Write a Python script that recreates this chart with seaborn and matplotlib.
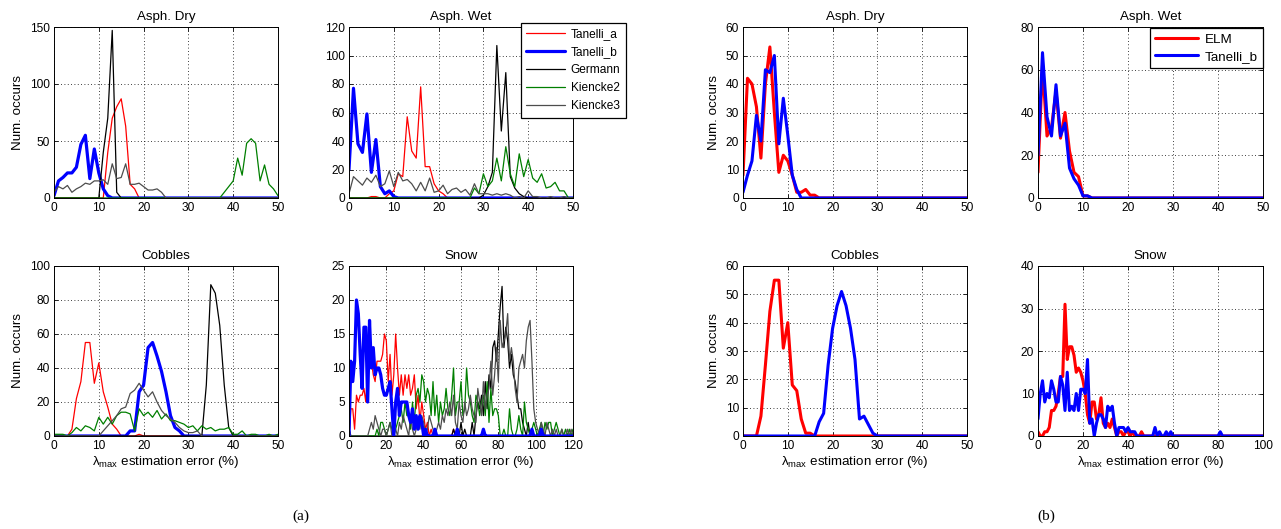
import numpy as np
import pandas as pd
import seaborn as sns
import matplotlib
matplotlib.use("Agg")
import matplotlib.pyplot as plt

# x bins (%)
x50 = list(range(51))
x120 = list(range(121))
x100 = list(range(101))

def pad(vals, n):
    return list(vals) + [0] * (n - len(vals))

# ---------------- panel (a) ----------------
# Asph. Dry
a_dry_tan_a = pad([0]*12 + [40, 70, 80, 87, 63, 12, 8, 0], 51)
a_dry_tan_b = pad([2, 15, 18, 22, 22, 27, 47, 55, 17, 43, 22, 8, 2, 0], 51)
a_dry_germ = pad([0]*11 + [40, 70, 147, 5, 0], 51)
a_dry_kie2 = pad([0]*38 + [5, 10, 15, 35, 20, 48, 52, 48, 15, 29, 12, 8, 2], 51)
a_dry_kie3 = pad([5, 10, 8, 11, 5, 8, 10, 13, 12, 15, 15, 16, 12, 30, 17, 18, 30, 12,
                  12, 13, 10, 7, 7, 8, 5, 0], 51)

# Asph. Wet
a_wet_tan_a = pad([0, 0, 0, 0, 0, 1, 1, 0, 0, 3, 5, 17, 15, 57, 33, 28, 78, 22, 22, 10,
                   5, 3, 0], 51)
a_wet_tan_b = pad([20, 77, 38, 32, 59, 18, 41, 8, 3, 5, 1, 0], 51)
a_wet_germ = pad([0]*30 + [2, 8, 18, 107, 47, 88, 15, 7, 3, 1, 0], 51)
a_wet_kie2 = pad([0]*28 + [7, 3, 17, 8, 12, 28, 12, 36, 17, 8, 31, 15, 27, 14, 11, 17,
                           7, 8, 11, 5, 5, 0, 0], 51)
a_wet_kie3 = [3, 15, 12, 9, 14, 11, 16, 8, 10, 19, 8, 18, 12, 13, 10, 5, 11, 5, 14, 4,
              5, 9, 3, 6, 7, 4, 6, 2, 10, 3, 3, 3, 2, 3, 2, 3, 2, 0, 1, 0,
              5, 1, 1, 0, 0, 1, 0, 0, 1, 0, 0]

# Cobbles
a_cob_tan_a = pad([0, 0, 0, 0, 4, 22, 32, 55, 55, 31, 43, 26, 17, 7, 4, 0, 0, 0, 0, 1, 0], 51)
a_cob_tan_b = pad([0]*17 + [3, 3, 26, 30, 52, 55, 47, 38, 26, 12, 5, 3, 0], 51)
a_cob_germ = pad([0]*34 + [30, 89, 84, 65, 30, 5, 0], 51)
a_cob_kie2 = [1, 1, 1, 0, 2, 5, 3, 6, 5, 3, 11, 7, 11, 7, 12, 14, 14, 13, 3, 16,
              12, 14, 11, 15, 10, 13, 9, 9, 8, 7, 5, 6, 3, 6, 4, 5, 3, 4, 4, 5,
              1, 1, 3, 0, 1, 1, 0, 0, 1, 0, 1]
a_cob_kie3 = pad([0]*11 + [3, 6, 9, 12, 16, 17, 25, 27, 31, 27, 23, 26, 20, 15, 12, 10,
                           8, 5, 3, 2, 2, 3, 0], 51)

# Snow
a_snow_tan_a = pad([0, 4, 4, 1, 6, 5, 6, 6, 7, 5, 10, 12, 11, 9, 8, 11, 11, 11, 12, 15,
                    14, 8, 12, 6, 9, 15, 10, 6, 9, 6, 9, 7, 9, 6, 7, 9, 4, 6, 2, 5,
                    3, 1, 2, 0, 1, 0, 0, 0, 0, 0, 0, 0, 0, 0, 0, 0, 1, 0], 121)
a_snow_tan_b = pad([0, 11, 8, 11, 20, 18, 12, 7, 16, 16, 5, 17, 10, 13, 9, 10, 10, 9, 7, 6,
                    6, 7, 8, 4, 0, 5, 7, 3, 5, 5, 5, 5, 3, 2, 4, 1, 3, 1, 3, 2,
                    0, 1, 0, 0, 0, 0, 1, 0, 0, 0, 0, 0, 0, 0, 0, 0, 0, 0, 1, 0,
                    0, 0, 0, 0, 0, 0, 0, 0, 0, 0, 0, 0, 1, 0, 0, 0, 0, 0, 0, 0,
                    0, 0, 0, 0, 0, 0, 0, 0, 0, 0, 0, 0, 0, 0, 0, 0, 0, 0, 1, 0,
                    0, 0, 0, 1, 0], 121)
a_snow_germ = pad([1] + [0]*55 + [1, 0, 0, 0, 2, 0, 1, 0, 0, 0, 2, 0, 3, 5, 4, 6, 3, 8,
                                4, 9, 7, 13, 14, 11, 15, 19, 22, 13, 16, 14, 10, 12, 9,
                                8, 6, 4, 4, 2, 1, 0, 2, 0, 1, 0], 121)
a_snow_kie2 = [0, 0, 0, 0, 0, 0, 0, 0, 0, 0, 0, 0, 0, 0, 0, 1, 0, 2, 2, 1,
               0, 1, 2, 1, 0, 1, 2, 3, 4, 2, 5, 3, 3, 1, 5, 2, 6, 7, 5, 9,
               8, 5, 7, 6, 3, 8, 3, 6, 2, 5, 3, 4, 7, 4, 3, 6, 10, 3, 5, 5,
               8, 3, 4, 10, 6, 5, 3, 2, 6, 5, 3, 5, 6, 3, 8, 2, 7, 3, 4, 4,
               3, 0, 0, 1, 0, 0, 4, 1, 0, 0, 1, 3, 1, 0, 5, 2, 1, 0, 1, 2,
               1, 0, 1, 2, 0, 2, 1, 2, 2, 0, 1, 2, 1, 0, 1, 0, 1, 0, 1, 0, 1]
a_snow_kie3 = [1, 0, 0, 0, 0, 0, 0, 0, 0, 0, 0, 1, 2, 1, 3, 2, 1, 0, 1, 1,
               0, 1, 2, 0, 1, 1, 0, 2, 1, 3, 2, 1, 0, 3, 1, 0, 1, 2, 1, 3,
               2, 0, 1, 3, 2, 1, 0, 1, 2, 1, 3, 2, 4, 3, 5, 3, 6, 2, 1, 5,
               3, 2, 5, 3, 4, 6, 4, 3, 2, 7, 5, 3, 8, 4, 6, 7, 11, 6, 9, 13,
               8, 17, 13, 14, 15, 18, 11, 13, 11, 7, 5, 10, 11, 12, 10, 14, 16, 17, 11, 4,
               2, 1, 0, 2, 1, 0, 2, 1, 0, 1, 0, 1, 0, 0, 1, 0, 0, 1, 0, 1, 0]

# ---------------- panel (b) ----------------
b_dry_elm = pad([8, 42, 40, 32, 14, 40, 53, 30, 9, 15, 13, 8, 2, 2, 3, 1, 1, 0], 51)
b_dry_tan_b = pad([2, 8, 13, 29, 20, 45, 44, 50, 19, 35, 22, 8, 3, 0], 51)
b_wet_elm = pad([12, 62, 29, 33, 50, 28, 40, 22, 12, 10, 1, 1, 0], 51)
b_wet_tan_b = pad([20, 68, 38, 29, 53, 29, 35, 14, 9, 6, 1, 1, 0], 51)
b_cob_elm = pad([0, 0, 0, 0, 7, 25, 44, 55, 55, 31, 40, 18, 16, 6, 1, 1, 0], 51)
b_cob_tan_b = pad([0]*17 + [5, 8, 25, 38, 46, 51, 46, 38, 27, 6, 7, 4, 1, 0], 51)
b_snow_elm = pad([1, 0, 0, 1, 1, 2, 6, 6, 7, 10, 14, 14, 31, 18, 21, 21, 19, 15, 16, 15,
                  13, 10, 5, 3, 8, 8, 4, 5, 9, 3, 2, 3, 2, 4, 2, 0, 1, 1, 0, 1,
                  1, 0, 1, 0, 0, 0, 1, 0], 101)
b_snow_tan_b = pad([4, 10, 13, 8, 10, 9, 13, 11, 8, 8, 14, 12, 6, 15, 6, 7, 6, 10, 6, 11,
                    11, 10, 18, 3, 4, 0, 3, 5, 5, 4, 2, 7, 6, 7, 3, 0, 2, 2, 2, 1,
                    2, 1, 1, 1, 0, 0, 0, 0, 0, 0, 0, 0, 2, 0, 1, 0, 0, 1, 0, 1,
                    0, 0, 0, 0, 0, 0, 0, 0, 0, 0, 0, 0, 0, 0, 0, 0, 0, 0, 0, 0,
                    0, 1, 0], 101)

sns.set_style("white")
plt.rcParams['font.family'] = ['Liberation Sans', 'DejaVu Sans']
plt.rcParams['mathtext.fontset'] = 'custom'
plt.rcParams['mathtext.rm'] = 'Liberation Sans'
plt.rcParams['mathtext.it'] = 'Liberation Sans'
for k in ['text.color', 'axes.labelcolor', 'xtick.color', 'ytick.color']:
    plt.rcParams[k] = 'black'

fs_tick = 8.6
fs_lab = 9.6
W, H = 1281, 529
fig = plt.figure(figsize=(W / 100, H / 100), dpi=100)

def make_ax(left, top, right, bottom):
    return fig.add_axes([left / W, 1 - bottom / H, (right - left) / W, (bottom - top) / H])

styles_a = {
    'Tanelli_a': dict(color='#ff0000', lw=0.9),
    'Tanelli_b': dict(color='#0000ff', lw=2.3),
    'Germann': dict(color='#000000', lw=0.9),
    'Kiencke2': dict(color='#007f00', lw=0.9),
    'Kiencke3': dict(color='#4d4d4d', lw=0.9),
}
styles_b = {
    'ELM': dict(color='#ff0000', lw=2.2),
    'Tanelli_b': dict(color='#0000ff', lw=2.2),
}

def draw(ax, x, series, styles, title, xlim, ylim, xticks, yticks, ylabel, xlabel):
    for name, y in series.items():
        df = pd.DataFrame({'x': x, 'y': y})
        sns.lineplot(data=df, x='x', y='y', ax=ax, label=name, legend=False, **styles[name])
    ax.set_xlim(*xlim)
    ax.set_ylim(*ylim)
    ax.set_xticks(xticks)
    ax.set_yticks(yticks)
    ax.grid(True, linestyle=(0, (1, 3)), color='black', lw=0.6)
    ax.tick_params(direction='in', length=3, labelsize=fs_tick, top=True, right=True,
                   bottom=True, left=True, pad=3, width=0.6, colors='black')
    for s in ax.spines.values():
        s.set_visible(True)
        s.set_color('black')
        s.set_linewidth(0.7)
    ax.set_title(title, fontsize=fs_lab, pad=5, color='black')
    ax.set_ylabel('Num. occurs' if ylabel else '', fontsize=fs_lab, labelpad=4)
    ax.set_xlabel('λ$_{\\mathrm{max}}$ estimation error (%)' if xlabel else '',
                  fontsize=fs_lab, labelpad=1)

cols = [(54, 278), (349, 573), (743, 967), (1038, 1263)]
top_row = (27, 198)
bot_row = (266, 436)

ax1 = make_ax(cols[0][0], top_row[0], cols[0][1], top_row[1])
draw(ax1, x50, {'Tanelli_a': a_dry_tan_a, 'Tanelli_b': a_dry_tan_b, 'Germann': a_dry_germ,
                'Kiencke2': a_dry_kie2, 'Kiencke3': a_dry_kie3}, styles_a,
     'Asph. Dry', (0, 50), (0, 150), range(0, 51, 10), range(0, 151, 50), True, False)

ax2 = make_ax(cols[1][0], top_row[0], cols[1][1], top_row[1])
draw(ax2, x50, {'Tanelli_a': a_wet_tan_a, 'Tanelli_b': a_wet_tan_b, 'Germann': a_wet_germ,
                'Kiencke2': a_wet_kie2, 'Kiencke3': a_wet_kie3}, styles_a,
     'Asph. Wet', (0, 50), (0, 120), range(0, 51, 10), range(0, 121, 20), False, False)

ax3 = make_ax(cols[0][0], bot_row[0], cols[0][1], bot_row[1])
draw(ax3, x50, {'Tanelli_a': a_cob_tan_a, 'Tanelli_b': a_cob_tan_b, 'Germann': a_cob_germ,
                'Kiencke2': a_cob_kie2, 'Kiencke3': a_cob_kie3}, styles_a,
     'Cobbles', (0, 50), (0, 100), range(0, 51, 10), range(0, 101, 20), True, True)

ax4 = make_ax(cols[1][0], bot_row[0], cols[1][1], bot_row[1])
draw(ax4, x120, {'Tanelli_a': a_snow_tan_a, 'Germann': a_snow_germ, 'Kiencke2': a_snow_kie2,
                 'Kiencke3': a_snow_kie3, 'Tanelli_b': a_snow_tan_b}, styles_a,
     'Snow', (0, 120), (0, 25), range(0, 121, 20), range(0, 26, 5), False, True)

ax5 = make_ax(cols[2][0], top_row[0], cols[2][1], top_row[1])
draw(ax5, x50, {'ELM': b_dry_elm, 'Tanelli_b': b_dry_tan_b}, styles_b,
     'Asph. Dry', (0, 50), (0, 60), range(0, 51, 10), range(0, 61, 10), True, False)

ax6 = make_ax(cols[3][0], top_row[0], cols[3][1], top_row[1])
draw(ax6, x50, {'ELM': b_wet_elm, 'Tanelli_b': b_wet_tan_b}, styles_b,
     'Asph. Wet', (0, 50), (0, 80), range(0, 51, 10), range(0, 81, 20), False, False)

ax7 = make_ax(cols[2][0], bot_row[0], cols[2][1], bot_row[1])
draw(ax7, x50, {'ELM': b_cob_elm, 'Tanelli_b': b_cob_tan_b}, styles_b,
     'Cobbles', (0, 50), (0, 60), range(0, 51, 10), range(0, 61, 10), True, True)

ax8 = make_ax(cols[3][0], bot_row[0], cols[3][1], bot_row[1])
draw(ax8, x100, {'ELM': b_snow_elm, 'Tanelli_b': b_snow_tan_b}, styles_b,
     'Snow', (0, 100), (0, 40), range(0, 101, 20), range(0, 41, 10), False, True)

# legends
h, l = ax2.get_legend_handles_labels()
order = ['Tanelli_a', 'Tanelli_b', 'Germann', 'Kiencke2', 'Kiencke3']
hd = dict(zip(l, h))
leg = fig.legend([hd[k] for k in order], order, loc='upper left',
                 bbox_to_anchor=(521 / W, 1 - 23 / H), fontsize=fs_tick, frameon=True,
                 fancybox=False, edgecolor='black', framealpha=1, borderpad=0.45,
                 labelspacing=0.5, handlelength=3.2, handletextpad=0.5, borderaxespad=0)
leg.get_frame().set_linewidth(0.9)

h, l = ax6.get_legend_handles_labels()
leg2 = ax6.legend(h, l, loc='upper right', fontsize=fs_lab, frameon=True, fancybox=False,
                  edgecolor='black', framealpha=1, borderpad=0.4, labelspacing=0.35,
                  handlelength=3.2, handletextpad=0.5, borderaxespad=0,
                  bbox_to_anchor=(1.0, 1.0 - 1 / 171))
leg2.get_frame().set_linewidth(0.9)

fig.text(301 / W, 1 - 516 / H, '(a)', ha='center', va='center', fontsize=11,
         family=['Liberation Serif', 'DejaVu Serif'])
fig.text(1046 / W, 1 - 516 / H, '(b)', ha='center', va='center', fontsize=11,
         family=['Liberation Serif', 'DejaVu Serif'])

fig.savefig('out.png', dpi=100)
